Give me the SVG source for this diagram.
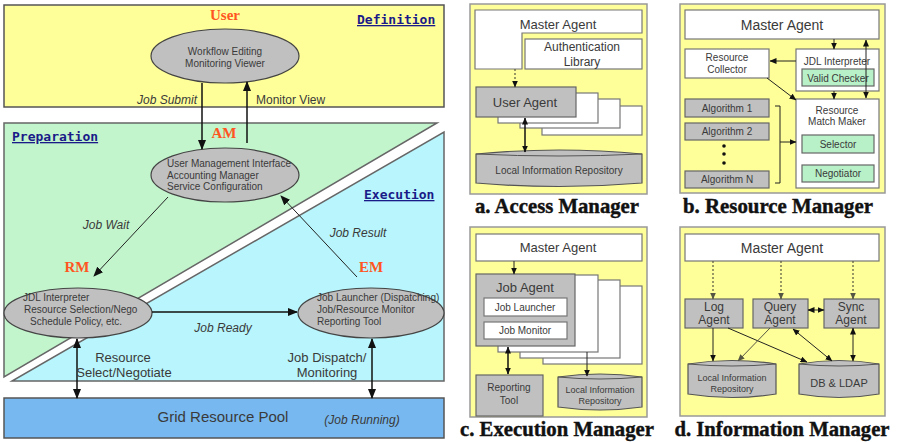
<svg xmlns="http://www.w3.org/2000/svg" width="899" height="442" viewBox="0 0 899 442">
<defs>
<marker id="ah" markerWidth="10" markerHeight="8" refX="9" refY="4" orient="auto" markerUnits="userSpaceOnUse"><path d="M0,0 L10,4 L0,8 Z" fill="#111"/></marker>
<marker id="ahs" markerWidth="10" markerHeight="8" refX="1" refY="4" orient="auto" markerUnits="userSpaceOnUse"><path d="M10,0 L0,4 L10,8 Z" fill="#111"/></marker>
<marker id="as" markerWidth="7" markerHeight="6" refX="6.5" refY="3" orient="auto" markerUnits="userSpaceOnUse"><path d="M0,0 L7,3 L0,6 Z" fill="#111"/></marker>
<marker id="ass" markerWidth="7" markerHeight="6" refX="0.5" refY="3" orient="auto" markerUnits="userSpaceOnUse"><path d="M7,0 L0,3 L7,6 Z" fill="#111"/></marker>
<marker id="ao" markerWidth="7" markerHeight="6" refX="6.5" refY="3" orient="auto" markerUnits="userSpaceOnUse"><path d="M0,0 L7,3 L0,6 Z" fill="#554"/></marker>
</defs>
<style>
.t{font-family:"Liberation Sans","Noto Sans",Arial,sans-serif;fill:#3a3a3a}
.it{font-family:"Liberation Sans","Noto Sans",Arial,sans-serif;font-style:italic;fill:#3a3a3a;font-size:12px}
.sec{font-family:"DejaVu Sans Mono","Liberation Mono",monospace;font-weight:bold;font-size:13px;fill:#1a1a88;text-decoration:underline}
.red{font-family:"Liberation Serif","DejaVu Serif",serif;font-weight:bold;font-size:15px;fill:#ff5522}
.cap{font-family:"Liberation Serif","DejaVu Serif",serif;font-weight:bold;font-size:20px;fill:#111;stroke:#111;stroke-width:0.4}
.ell{fill:#c0c0c0;stroke:#444;stroke-width:1.2}
.pan{fill:#ffff99;stroke:#999;stroke-width:1.5}
.wb{fill:#fff;stroke:#777;stroke-width:1.2}
.gb{fill:#c0c0c0;stroke:#666;stroke-width:1.2}
.grn{fill:#b8f0c8;stroke:#666;stroke-width:1.2}
.ln{stroke:#111;stroke-width:1.5;fill:none}
.lt{stroke:#222;stroke-width:1;fill:none}
.dt{stroke:#554;stroke-width:1.2;stroke-dasharray:2,2;fill:none}
.pt{font-size:12px;text-anchor:middle}
.sm{font-size:10px;text-anchor:middle}
</style>

<!-- LEFT: regions -->
<g id="definition">
<rect x="4" y="5" width="440" height="102" fill="#ffff99" stroke="#555" stroke-width="1.5"/>
<text class="red" x="225" y="20" text-anchor="middle">User</text>
<text class="sec" x="357" y="24">Definition</text>
</g>
<g id="preparation">
<polygon points="4,123 437,123 4,377" fill="#c2f5cc" stroke="#666" stroke-width="1.5"/>
<text class="sec" x="12" y="141">Preparation</text>
</g>
<g id="execution">
<polygon points="444,132 444,381 12,381" fill="#b8f5fc" stroke="#666" stroke-width="1.5"/>
<text class="sec" x="364" y="199">Execution</text>
</g>
<g id="pool">
<rect x="4" y="398" width="440" height="40" fill="#77b8f0" stroke="#555" stroke-width="1.5"/>
<text class="t" x="223" y="422" font-size="15" text-anchor="middle">Grid Resource Pool</text>
<text class="it" x="362" y="424" text-anchor="middle">(Job Running)</text>
</g>

<g id="user-node">
<ellipse class="ell" cx="225" cy="56" rx="74" ry="27"/>
<text class="t" x="225" y="55" font-size="10" text-anchor="middle">Workflow Editing</text>
<text class="t" x="225" y="67" font-size="10" text-anchor="middle">Monitoring Viewer</text>
</g>
<g id="am-node">
<text class="red" x="224" y="138" text-anchor="middle">AM</text>
<ellipse class="ell" cx="225" cy="175" rx="74" ry="27"/>
<text class="t" x="167" y="167" font-size="10">User Management Interface</text>
<text class="t" x="167" y="179" font-size="10">Accounting Manager</text>
<text class="t" x="167" y="190" font-size="10">Service Configuration</text>
</g>
<g id="rm-node">
<text class="red" x="77" y="272" text-anchor="middle">RM</text>
<ellipse class="ell" cx="78" cy="313" rx="74" ry="25"/>
<text class="t" x="23" y="301" font-size="10">JDL Interpreter</text>
<text class="t" x="24" y="313" font-size="10">Resource Selection/Nego</text>
<text class="t" x="30" y="325" font-size="10">Schedule Policy, etc.</text>
</g>
<g id="em-node">
<text class="red" x="371" y="272" text-anchor="middle">EM</text>
<ellipse class="ell" cx="371" cy="313" rx="73" ry="25"/>
<text class="t" x="317" y="301" font-size="10">Job Launcher (Dispatching)</text>
<text class="t" x="317" y="313" font-size="10">Job/Resource Monitor</text>
<text class="t" x="317" y="325" font-size="10">Reporting Tool</text>
</g>

<g id="left-connectors">
<line class="ln" x1="202" y1="83" x2="202" y2="149" marker-end="url(#ah)"/>
<line class="ln" x1="247" y1="143" x2="247" y2="82" marker-end="url(#ah)"/>
<line class="lt" x1="168" y1="197" x2="94" y2="276" marker-end="url(#ah)"/>
<line class="lt" x1="357" y1="277" x2="281" y2="196" marker-end="url(#ah)"/>
<line class="ln" x1="152" y1="312" x2="297" y2="312" marker-end="url(#ah)"/>
<line class="ln" x1="77" y1="339" x2="77" y2="398" marker-start="url(#ahs)" marker-end="url(#ah)"/>
<line class="ln" x1="372" y1="339" x2="372" y2="398" marker-start="url(#ahs)" marker-end="url(#ah)"/>
<text class="it" x="197" y="104" text-anchor="end">Job Submit</text>
<text class="t" x="256" y="104" font-size="12">Monitor View</text>
<text class="it" x="106" y="229" text-anchor="middle">Job Wait</text>
<text class="it" x="358" y="237" text-anchor="middle">Job Result</text>
<text class="it" x="223" y="332" text-anchor="middle">Job Ready</text>
<text class="t" x="123" y="362" font-size="13" text-anchor="middle">Resource</text>
<text class="t" x="124" y="377" font-size="13" text-anchor="middle">Select/Negotiate</text>
<text class="t" x="327" y="362" font-size="13" text-anchor="middle">Job Dispatch/</text>
<text class="t" x="327" y="377" font-size="13" text-anchor="middle">Monitoring</text>
</g>

<!-- PANEL A -->
<g id="panel-a">
<rect class="pan" x="470" y="4" width="177" height="190"/>
<text class="cap" x="557" y="213" text-anchor="middle" textLength="164" lengthAdjust="spacingAndGlyphs">a. Access Manager</text>
</g>
<g id="a-master">
<polygon class="wb" points="475,10 642,10 642,33 522,33 522,69 475,69"/>
<text class="t" x="558" y="29" font-size="13" text-anchor="middle">Master Agent</text>
</g>
<g id="a-auth">
<rect class="wb" x="525" y="39" width="117" height="30"/>
<text class="t pt" x="582" y="51">Authentication</text>
<text class="t pt" x="582" y="66">Library</text>
</g>
<g id="a-user">
<rect class="wb" x="542" y="106" width="100" height="29"/>
<rect class="wb" x="520" y="99" width="100" height="29"/>
<rect class="wb" x="498" y="93" width="100" height="30"/>
<rect class="gb" x="476" y="87" width="100" height="30"/>
<text class="t" x="525" y="107" font-size="13" text-anchor="middle">User Agent</text>
</g>
<g id="a-repo">
<path d="M476,154 Q559,146 642,154 L642,183 Q559,190 476,183 Z" fill="#c0c0c0" stroke="#555" stroke-width="1.2"/>
<path d="M476,154 Q559,158 642,154" fill="none" stroke="#555" stroke-width="1"/>
<text class="t sm" x="559" y="174">Local Information Repository</text>
</g>
<g id="a-connectors">
<line class="dt" x1="515" y1="69" x2="515" y2="87" stroke="#111" marker-end="url(#as)"/>
<line class="ln" x1="525" y1="118" x2="525" y2="152" marker-start="url(#ass)" marker-end="url(#as)"/>
</g>

<!-- PANEL B -->
<g id="panel-b">
<rect class="pan" x="680" y="4" width="205" height="189"/>
<text class="cap" x="778" y="213" text-anchor="middle" textLength="190" lengthAdjust="spacingAndGlyphs">b. Resource Manager</text>
</g>
<g id="b-master">
<rect class="wb" x="685" y="10" width="194" height="29"/>
<text class="t" x="782" y="30" font-size="14" text-anchor="middle">Master Agent</text>
</g>
<g id="b-collector">
<rect class="wb" x="685" y="49" width="84" height="29"/>
<text class="t sm" x="727" y="61" font-size="11">Resource</text>
<text class="t sm" x="727" y="73" font-size="11">Collector</text>
</g>
<g id="b-jdl">
<rect class="wb" x="796" y="49" width="83" height="42"/>
<text class="t sm" x="837" y="65" font-size="11">JDL Interpreter</text>
<rect class="grn" x="802" y="69" width="72" height="17"/>
<text class="t sm" x="838" y="82" font-size="11">Valid Checker</text>
</g>
<g id="b-match">
<rect class="wb" x="796" y="99" width="83" height="89"/>
<text class="t sm" x="837" y="114">Resource</text>
<text class="t sm" x="837" y="125">Match Maker</text>
<rect class="grn" x="802" y="135" width="72" height="18"/>
<text class="t sm" x="838" y="148" font-size="11">Selector</text>
<rect class="grn" x="802" y="165" width="72" height="17"/>
<text class="t sm" x="838" y="177" font-size="11">Negotiator</text>
</g>
<g id="b-algorithms">
<rect class="gb" x="685" y="99" width="84" height="18"/>
<text class="t sm" x="727" y="112">Algorithm 1</text>
<rect class="gb" x="685" y="123" width="84" height="17"/>
<text class="t sm" x="727" y="135">Algorithm 2</text>
<circle cx="724" cy="146" r="1.8" fill="#111"/>
<circle cx="724" cy="154" r="1.8" fill="#111"/>
<circle cx="724" cy="163" r="1.8" fill="#111"/>
<rect class="gb" x="685" y="171" width="84" height="17"/>
<text class="t sm" x="727" y="183">Algorithm N</text>
</g>
<g id="b-connectors">
<polyline class="lt" points="775,106 780,106 780,183 775,183"/>
<line class="lt" x1="780" y1="142" x2="796" y2="142" marker-end="url(#as)"/>
<line class="lt" x1="796" y1="61" x2="770" y2="61" marker-end="url(#as)"/>
<line class="lt" x1="767" y1="78" x2="796" y2="100" marker-end="url(#as)"/>
<line class="lt" x1="834" y1="39" x2="834" y2="49" marker-end="url(#as)"/>
<line class="lt" x1="834" y1="91" x2="834" y2="99" marker-end="url(#as)"/>
<line class="lt" x1="866" y1="40" x2="866" y2="98" marker-start="url(#ass)" marker-end="url(#as)"/>
</g>

<!-- PANEL C -->
<g id="panel-c">
<rect class="pan" x="470" y="227" width="177" height="190"/>
<text class="cap" x="557" y="436" text-anchor="middle" textLength="194" lengthAdjust="spacingAndGlyphs">c. Execution Manager</text>
</g>
<g id="c-master">
<rect class="wb" x="476" y="234" width="166" height="27"/>
<text class="t" x="558" y="252" font-size="13" text-anchor="middle">Master Agent</text>
</g>
<g id="c-job">
<rect class="wb" x="543" y="286" width="99" height="78"/>
<rect class="wb" x="520" y="280" width="100" height="78"/>
<rect class="wb" x="498" y="275" width="100" height="77"/>
<rect class="gb" x="476" y="274" width="99" height="72"/>
<text class="t" x="525" y="292" font-size="13" text-anchor="middle">Job Agent</text>
<rect class="wb" x="484" y="298" width="83" height="18"/>
<text class="t sm" x="525" y="311">Job Launcher</text>
<rect class="wb" x="484" y="322" width="83" height="17"/>
<text class="t sm" x="525" y="334">Job Monitor</text>
</g>
<g id="c-reporting">
<rect class="gb" x="476" y="375" width="67" height="41"/>
<text class="t sm" x="509" y="391" font-size="11">Reporting</text>
<text class="t sm" x="509" y="404" font-size="11">Tool</text>
</g>
<g id="c-repo">
<path d="M558,377 Q600,371 642,377 L642,407 Q600,413 558,407 Z" fill="#c0c0c0" stroke="#555" stroke-width="1.2"/>
<path d="M558,377 Q600,381 642,377" fill="none" stroke="#555" stroke-width="1"/>
<text class="t" x="600" y="393" font-size="9" text-anchor="middle">Local Information</text>
<text class="t" x="600" y="404" font-size="9" text-anchor="middle">Repository</text>
</g>
<g id="c-connectors">
<line class="lt" x1="514" y1="261" x2="514" y2="274" marker-end="url(#as)"/>
<line class="ln" x1="508" y1="347" x2="508" y2="374" marker-start="url(#ass)" marker-end="url(#as)"/>
<line class="lt" x1="587" y1="352" x2="587" y2="376" marker-end="url(#as)"/>
</g>

<!-- PANEL D -->
<g id="panel-d">
<rect class="pan" x="680" y="227" width="205" height="189"/>
<text class="cap" x="782" y="436" text-anchor="middle" textLength="215" lengthAdjust="spacingAndGlyphs">d. Information Manager</text>
</g>
<g id="d-master">
<rect class="wb" x="685" y="234" width="194" height="27"/>
<text class="t" x="782" y="253" font-size="14" text-anchor="middle">Master Agent</text>
</g>
<g id="d-log">
<rect class="gb" x="685" y="299" width="58" height="29"/>
<text class="t pt" x="714" y="311">Log</text>
<text class="t pt" x="714" y="324">Agent</text>
</g>
<g id="d-query">
<rect class="gb" x="753" y="299" width="55" height="29"/>
<text class="t pt" x="780" y="311">Query</text>
<text class="t pt" x="780" y="324">Agent</text>
</g>
<g id="d-sync">
<rect class="gb" x="824" y="299" width="55" height="29"/>
<text class="t pt" x="851" y="311">Sync</text>
<text class="t pt" x="851" y="324">Agent</text>
</g>
<g id="d-local">
<path d="M688,364 Q732,357 776,364 L776,394 Q732,401 688,394 Z" fill="#c0c0c0" stroke="#555" stroke-width="1.2"/>
<path d="M688,364 Q732,368 776,364" fill="none" stroke="#555" stroke-width="1"/>
<text class="t" x="732" y="381" font-size="9" text-anchor="middle">Local Information</text>
<text class="t" x="732" y="392" font-size="9" text-anchor="middle">Repository</text>
</g>
<g id="d-db">
<path d="M799,364 Q839,357 879,364 L879,394 Q839,401 799,394 Z" fill="#c0c0c0" stroke="#555" stroke-width="1.2"/>
<path d="M799,364 Q839,368 879,364" fill="none" stroke="#555" stroke-width="1"/>
<text class="t" x="839" y="387" font-size="11" text-anchor="middle">DB &amp; LDAP</text>
</g>
<g id="d-connectors">
<line class="dt" x1="713" y1="261" x2="713" y2="299" marker-end="url(#ao)"/>
<line class="dt" x1="781" y1="261" x2="781" y2="299" marker-end="url(#ao)"/>
<line class="dt" x1="853" y1="261" x2="853" y2="299" marker-end="url(#ao)"/>
<line class="lt" x1="808" y1="310" x2="824" y2="310" marker-start="url(#ass)" marker-end="url(#as)"/>
<line class="lt" x1="713" y1="328" x2="713" y2="361" marker-end="url(#as)"/>
<line class="lt" x1="728" y1="328" x2="807" y2="362" marker-end="url(#as)"/>
<line x1="770" y1="328" x2="738" y2="361" stroke="#554" stroke-width="1" marker-end="url(#ao)"/>
<line class="lt" x1="793" y1="329" x2="832" y2="361" marker-start="url(#ass)" marker-end="url(#as)"/>
<line class="lt" x1="853" y1="328" x2="853" y2="361" marker-start="url(#ass)" marker-end="url(#as)"/>
</g>
</svg>
